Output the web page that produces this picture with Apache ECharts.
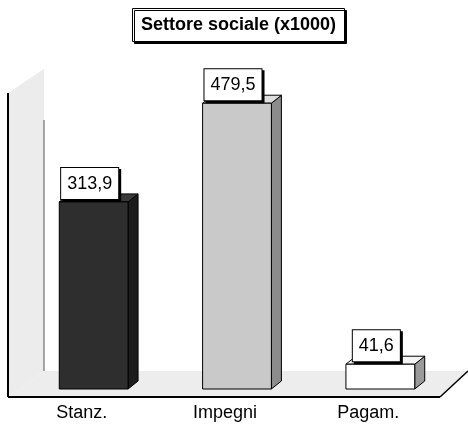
<!DOCTYPE html>
<html>
<head>
<meta charset="utf-8">
<script src="https://cdn.jsdelivr.net/npm/echarts@6/dist/echarts.min.js"></script>
<style>
  html, body { margin: 0; padding: 0; background: #fff; }
  #chart { width: 468px; height: 426px; }
</style>
</head>
<body>
<div id="chart"></div>
<script>
// Budget figures for the social sector, in thousands
const categories = ['Stanz.', 'Impegni', 'Pagam.'];
const values = [313.9, 479.5, 41.6];

// Face colours of each block: front, side, top
const palette = [
  { front: '#2e2e2e', side: '#1c1c1c', top: '#3a3a3a' },
  { front: '#c9c9c9', side: '#8c8c8c', top: '#dedede' },
  { front: '#ffffff', side: '#9a9a9a', top: '#f4f4f4' }
];

const FONT = '"Liberation Sans", Arial, sans-serif';
const DEPTH_X = 10, DEPTH_Y = -8;   // oblique depth of each block
const SHIFT_X = 12;                 // blocks stand slightly behind their labels

const chart = echarts.init(document.getElementById('chart'), null, { renderer: 'canvas' });

function fmt(v) { return v.toFixed(1).replace('.', ','); }

function renderBlock(params, api) {
  const idx = api.value(0);
  const v = api.value(1);
  const top = api.coord([idx, v]);
  const base = api.coord([idx, 0]);
  const bw = api.size([1, 0])[0] * 0.48;
  const cx = top[0] + SHIFT_X;
  const x0 = cx - bw / 2, x1 = cx + bw / 2;
  const yT = top[1], yB = base[1];
  const c = palette[params.dataIndex];
  const edge = { stroke: '#000', lineWidth: 1 };
  return {
    type: 'group',
    children: [
      {
        type: 'polygon',
        shape: { points: [[x1, yT], [x1 + DEPTH_X, yT + DEPTH_Y], [x1 + DEPTH_X, yB + DEPTH_Y], [x1, yB]] },
        style: Object.assign({ fill: c.side }, edge)
      },
      {
        type: 'polygon',
        shape: { points: [[x0, yT], [x0 + DEPTH_X, yT + DEPTH_Y], [x1 + DEPTH_X, yT + DEPTH_Y], [x1, yT]] },
        style: Object.assign({ fill: c.top }, edge)
      },
      {
        type: 'rect',
        shape: { x: x0, y: yT, width: bw, height: yB - yT },
        style: Object.assign({ fill: c.front }, edge)
      },
      {
        type: 'text',
        x: cx - 4,
        y: yT - 3,
        style: {
          text: fmt(v),
          font: '18px ' + FONT,
          fill: '#000',
          align: 'center',
          verticalAlign: 'bottom',
          backgroundColor: '#fff',
          borderColor: '#000',
          borderWidth: 1,
          padding: [7, 6, 6, 6],
          shadowColor: '#000',
          shadowOffsetX: 2,
          shadowOffsetY: 2,
          shadowBlur: 0
        }
      }
    ]
  };
}

// Backdrop of the 3D scene: side wall and floor
const wallFill = '#ececec';
const floorFill = '#ededed';
const backdrop = [
  {
    type: 'polygon', z: -10,
    shape: { points: [[8, 93], [44, 69], [44, 371], [8, 397]] },
    style: { fill: wallFill, stroke: null }
  },
  {
    type: 'polygon', z: -10,
    shape: { points: [[8, 397], [440, 397], [468, 371], [44, 371]] },
    style: { fill: floorFill, stroke: null }
  },
  {
    type: 'line', z: -9,
    shape: { x1: 8, y1: 93, x2: 8, y2: 397 },
    style: { stroke: '#000', lineWidth: 2 }
  },
  {
    type: 'line', z: -9,
    shape: { x1: 44, y1: 120, x2: 44, y2: 371 },
    style: { stroke: '#555', lineWidth: 1 }
  },
  {
    type: 'line', z: -9,
    shape: { x1: 8, y1: 397, x2: 440, y2: 397 },
    style: { stroke: '#000', lineWidth: 2 }
  },
  {
    type: 'line', z: -9,
    shape: { x1: 440, y1: 397, x2: 468, y2: 371 },
    style: { stroke: '#000', lineWidth: 1.5 }
  }
];

chart.setOption({
  animation: false,
  backgroundColor: '#fff',
  title: {
    text: 'Settore sociale (x1000)',
    left: 132,
    top: 8,
    padding: [8, 9, 8, 9],
    borderColor: '#000',
    borderWidth: 1,
    backgroundColor: '#fff',
    shadowColor: '#000',
    shadowOffsetX: 2,
    shadowOffsetY: 2,
    shadowBlur: 0,
    textStyle: { fontFamily: FONT, fontSize: 18, fontWeight: 'bold', color: '#000' }
  },
  graphic: backdrop,
  grid: { left: 10, right: 28, top: 91, bottom: 37 },
  xAxis: {
    type: 'category',
    data: categories,
    axisLine: { show: false },
    axisTick: { show: false },
    axisLabel: {
      interval: 0,
      hideOverlap: false,
      margin: 15,
      fontFamily: FONT,
      fontSize: 18,
      color: '#000'
    }
  },
  yAxis: {
    type: 'value',
    min: 0,
    max: 500,
    show: false,
    splitLine: { show: false }
  },
  series: [{
    type: 'custom',
    renderItem: renderBlock,
    encode: { x: 0, y: 1 },
    data: values.map(function (v, i) { return [i, v]; }),
    clip: false
  }]
});
</script>
</body>
</html>
